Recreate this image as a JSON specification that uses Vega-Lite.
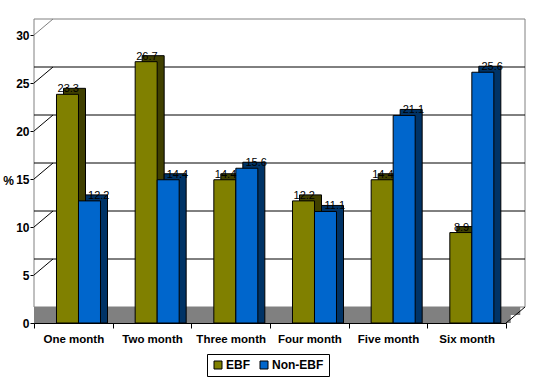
{
  "$schema": "https://vega.github.io/schema/vega-lite/v6.json",
  "width": 472,
  "height": 288,
  "autosize": {"type": "none"},
  "padding": {"left": 34, "top": 35, "right": 38, "bottom": 61},
  "background": "white",
  "config": {"view": {"stroke": null}, "font": "Liberation Sans"},
  "datasets": {
    "rates": [
      {"month": "One month", "series": "EBF", "value": 23.3},
      {"month": "One month", "series": "Non-EBF", "value": 12.2},
      {"month": "Two month", "series": "EBF", "value": 26.7},
      {"month": "Two month", "series": "Non-EBF", "value": 14.4},
      {"month": "Three month", "series": "EBF", "value": 14.4},
      {"month": "Three month", "series": "Non-EBF", "value": 15.6},
      {"month": "Four month", "series": "EBF", "value": 12.2},
      {"month": "Four month", "series": "Non-EBF", "value": 11.1},
      {"month": "Five month", "series": "EBF", "value": 14.4},
      {"month": "Five month", "series": "Non-EBF", "value": 21.1},
      {"month": "Six month", "series": "EBF", "value": 8.9},
      {"month": "Six month", "series": "Non-EBF", "value": 25.6}
    ],
    "ticks": [{"v": 5}, {"v": 10}, {"v": 15}, {"v": 20}, {"v": 25}, {"v": 30}],
    "one": [{}]
  },
  "resolve": {"scale": {"xOffset": "independent"}},
  "layer": [
    {
      "data": {"name": "one"},
      "mark": {"type": "rect", "fill": "white", "stroke": "#808080", "strokeWidth": 1, "xOffset": 19, "x2Offset": 19, "yOffset": -16, "y2Offset": -16},
      "encoding": {
        "y": {"datum": 30, "type": "quantitative", "scale": {"domain": [0, 30], "nice": false}},
        "y2": {"datum": 0}
      }
    },
    {
      "data": {"name": "ticks"},
      "transform": [{"filter": "datum.v < 30"}],
      "mark": {"type": "rule", "color": "black", "strokeWidth": 1, "xOffset": 19, "x2Offset": 19, "yOffset": -16},
      "encoding": {
        "y": {"field": "v", "type": "quantitative"}
      }
    },
    {
      "data": {"name": "one"},
      "mark": {"type": "rect", "fill": "#808080", "xOffset": 4.75, "x2Offset": 4.75, "yOffset": 0, "y2Offset": -8},
      "encoding": {
        "y": {"datum": 0, "type": "quantitative"},
        "y2": {"datum": 0}
      }
    },
    {
      "data": {"name": "one"},
      "mark": {"type": "rect", "fill": "#808080", "xOffset": 14.25, "x2Offset": 14.25, "yOffset": -8, "y2Offset": -16},
      "encoding": {
        "y": {"datum": 0, "type": "quantitative"},
        "y2": {"datum": 0}
      }
    },
    {
      "data": {"name": "ticks"},
      "mark": {"type": "rule", "strokeWidth": 1, "x2Offset": 19, "y2Offset": -16},
      "encoding": {
        "x": {"datum": "One month", "type": "nominal", "bandPosition": 0},
        "x2": {"datum": "One month", "bandPosition": 0},
        "y": {"field": "v", "type": "quantitative"},
        "y2": {"field": "v"},
        "color": {"condition": {"test": "datum.v == 30", "value": "#808080"}, "value": "black"}
      }
    },
    {
      "data": {"name": "one"},
      "mark": {"type": "rule", "color": "black", "strokeWidth": 1, "x2Offset": 19, "y2Offset": -16},
      "encoding": {
        "x": {"datum": "Six month", "type": "nominal", "bandPosition": 1},
        "x2": {"datum": "Six month", "bandPosition": 1},
        "y": {"datum": 0, "type": "quantitative"},
        "y2": {"datum": 0}
      }
    },
    {
      "data": {"name": "rates"},
      "mark": {"type": "bar", "stroke": "black", "strokeWidth": 1, "yOffset": -11, "y2Offset": -11},
      "encoding": {
        "x": {"field": "month", "type": "nominal"},
        "xOffset": {"field": "series", "type": "nominal", "scale": {"domain": ["EBF", "Non-EBF"], "paddingInner": 0, "paddingOuter": 0.7879, "align": 0.851}},
        "y": {"field": "value", "type": "quantitative", "stack": null},
        "fill": {"condition": {"test": "datum.series === 'EBF'", "value": "#404000"}, "value": "#003366"}
      }
    },
    {
      "data": {"name": "rates"},
      "mark": {"type": "bar", "stroke": "black", "strokeWidth": 1, "yOffset": -5, "y2Offset": -5},
      "encoding": {
        "x": {
          "field": "month", "type": "nominal",
          "scale": {"domain": ["One month", "Two month", "Three month", "Four month", "Five month", "Six month"], "paddingInner": 0, "paddingOuter": 0},
          "axis": {"title": null, "labelAngle": 0, "bandPosition": 0.5, "tickBand": "extent", "tickSize": 5, "tickColor": "black", "domainColor": "black", "labelPadding": 11, "labelFontSize": 11.5, "labelFontWeight": "bold", "labelColor": "black", "labelAlign": "center", "grid": false}
        },
        "xOffset": {"field": "series", "type": "nominal", "scale": {"domain": ["EBF", "Non-EBF"], "paddingInner": 0, "paddingOuter": 0.7879, "align": 0.649}},
        "y": {
          "field": "value", "type": "quantitative", "stack": null,
          "axis": {"title": "%", "values": [0, 5, 10, 15, 20, 25, 30], "grid": false, "tickSize": 4, "tickColor": "black", "domainColor": "black", "labelPadding": 1, "labelFontSize": 12, "labelFontWeight": "bold", "labelColor": "black", "titleAngle": 0, "titleX": -26, "titleY": 145, "titleAlign": "center", "titleBaseline": "middle", "titleFontSize": 12, "titleFontWeight": "bold", "titleColor": "black"}
        },
        "color": {
          "field": "series", "type": "nominal",
          "scale": {"domain": ["EBF", "Non-EBF"], "range": ["#808000", "#0066cc"]},
          "legend": {"title": null, "orient": "none", "legendX": 173, "legendY": 319, "direction": "horizontal", "strokeColor": "black", "fillColor": "white", "padding": 5, "symbolType": "square", "symbolSize": 64, "symbolStrokeColor": "black", "symbolStrokeWidth": 1, "labelFontSize": 12, "labelFontWeight": "bold", "labelColor": "black", "labelOffset": 2, "columnPadding": 8}
        }
      }
    },
    {
      "data": {"name": "rates"},
      "mark": {"type": "text", "fontSize": 11, "color": "black", "dx": 3, "yOffset": -10, "baseline": "middle", "align": "center"},
      "encoding": {
        "x": {"field": "month", "type": "nominal"},
        "xOffset": {"field": "series", "type": "nominal", "scale": {"domain": ["EBF", "Non-EBF"], "paddingInner": 0, "paddingOuter": 0.7879, "align": 0.649}},
        "y": {"field": "value", "type": "quantitative"},
        "text": {"field": "value", "type": "quantitative", "format": ".1f"}
      }
    }
  ]
}
